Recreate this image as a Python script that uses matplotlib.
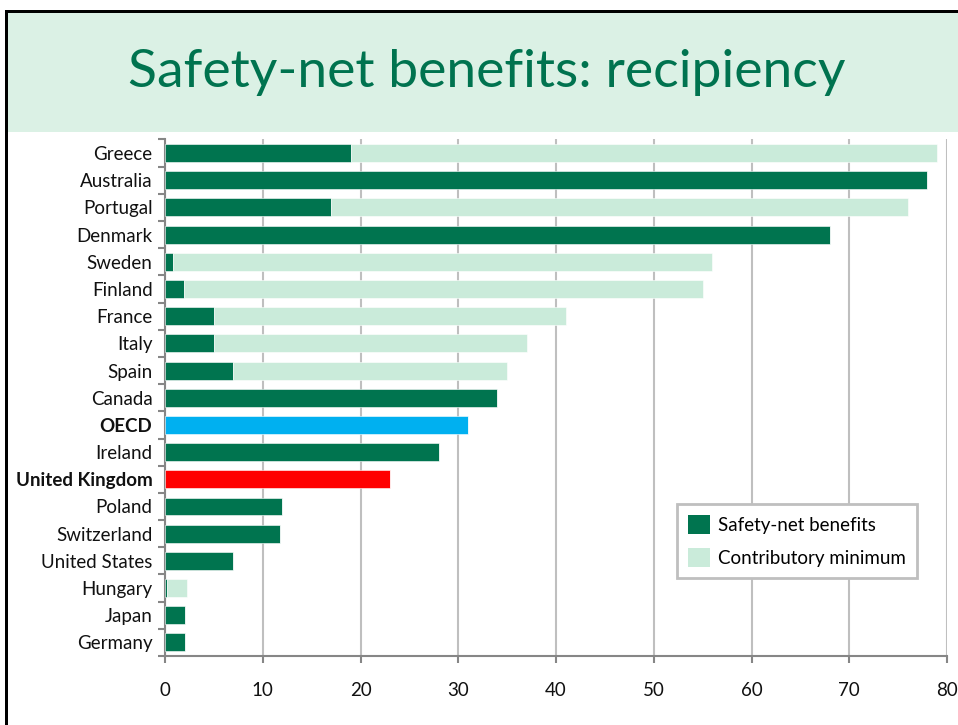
import matplotlib
matplotlib.use("Agg")
import matplotlib.pyplot as plt
from matplotlib.patches import Rectangle, Patch

countries = ["Greece", "Australia", "Portugal", "Denmark", "Sweden", "Finland",
             "France", "Italy", "Spain", "Canada", "OECD", "Ireland",
             "United Kingdom", "Poland", "Switzerland", "United States",
             "Hungary", "Japan", "Germany"]
safety_net = [19, 78, 17, 68, 0.8, 1.9, 5, 5, 7, 34, 31, 28, 23, 12, 11.8, 7, 0.2, 2, 2]
contributory = [60, 0, 59, 0, 55.2, 53.1, 36, 32, 28, 0, 0, 0, 0, 0, 0, 0, 2.0, 0, 0]
highlight = {"OECD": "#00B0F0", "United Kingdom": "#FF0000"}
xticks = [0, 10, 20, 30, 40, 50, 60, 70, 80]

DARK = "#00744F"
LIGHT = "#CAEBDA"
TITLE_GREEN = "#00734F"

plt.rcParams["font.family"] = ["Lato", "DejaVu Sans"]

fig = plt.figure(figsize=(9.58, 7.25), dpi=100)

# slide header band and frame
fig.patches.append(Rectangle((7 / 958, 1 - 132 / 725), 1.0, (132 - 12) / 725,
                             transform=fig.transFigure, facecolor="#DBF1E5",
                             edgecolor="none", zorder=0))
fig.patches.append(Rectangle((5 / 958, 0), 3 / 958, 1 - 10 / 725,
                             transform=fig.transFigure, facecolor="black",
                             edgecolor="none", zorder=1))
fig.patches.append(Rectangle((5 / 958, 1 - 13 / 725), 1.0, 3 / 725,
                             transform=fig.transFigure, facecolor="black",
                             edgecolor="none", zorder=1))
fig.text(487 / 958, 1 - 72 / 725, "Safety-net benefits: recipiency",
         ha="center", va="center", fontsize=38.5, color=TITLE_GREEN)

ax = fig.add_axes([165 / 958, 69 / 725, (947 - 165) / 958, (656 - 139.5) / 725])

ypos = list(range(len(countries)))
dark_colors = [highlight.get(c, DARK) for c in countries]
ax.barh(ypos, safety_net, height=0.66, color=dark_colors, edgecolor="white",
        linewidth=0.4, zorder=3, label="Safety-net benefits")
ax.barh(ypos, contributory, left=safety_net, height=0.66, color=LIGHT,
        edgecolor="white", linewidth=0.4, zorder=3, label="Contributory minimum")

ax.set_ylim(len(countries) - 0.5, -0.5)
ax.set_xlim(0, 80)
ax.set_xticks(xticks)
ax.set_xticklabels([str(t) for t in xticks])
ax.set_yticks(ypos)
ax.set_yticklabels(countries)
for lbl in ax.get_yticklabels():
    if lbl.get_text() in highlight:
        lbl.set_fontweight("bold")

ax.tick_params(axis="y", length=0, pad=9, labelsize=13.5, colors="#111111")
ax.tick_params(axis="x", length=5, width=1.5, color="#868686", pad=14,
               labelsize=13.5, labelcolor="#111111")
# category separator ticks on the value axis
ax.set_yticks([i - 0.5 for i in range(len(countries) + 1)], minor=True)
ax.tick_params(axis="y", which="minor", length=5, width=1.5, color="#868686")

ax.grid(axis="x", color="#BFBFBF", linewidth=1.5, zorder=0)
ax.set_axisbelow(True)
for side in ("top", "right"):
    ax.spines[side].set_visible(False)
for side in ("left", "bottom"):
    ax.spines[side].set_color("#868686")
    ax.spines[side].set_linewidth(1.5)

handles = [Patch(facecolor=DARK, edgecolor="none", label="Safety-net benefits"),
           Patch(facecolor=LIGHT, edgecolor="none", label="Contributory minimum")]
leg = ax.legend(handles=handles, loc="upper left",
                bbox_to_anchor=((677 - 165) / (947 - 165), 1 - (504 - 139.5) / (656 - 139.5)),
                fontsize=13.5, frameon=True, fancybox=False, borderpad=0.6,
                handlelength=1.15, handleheight=1.15, handletextpad=0.45,
                labelspacing=0.75, borderaxespad=0)
leg.get_frame().set_edgecolor("#BFBFBF")
leg.get_frame().set_linewidth(2)
leg.get_frame().set_facecolor("white")
leg.get_frame().set_alpha(1)

fig.savefig("out.png", dpi=100)
